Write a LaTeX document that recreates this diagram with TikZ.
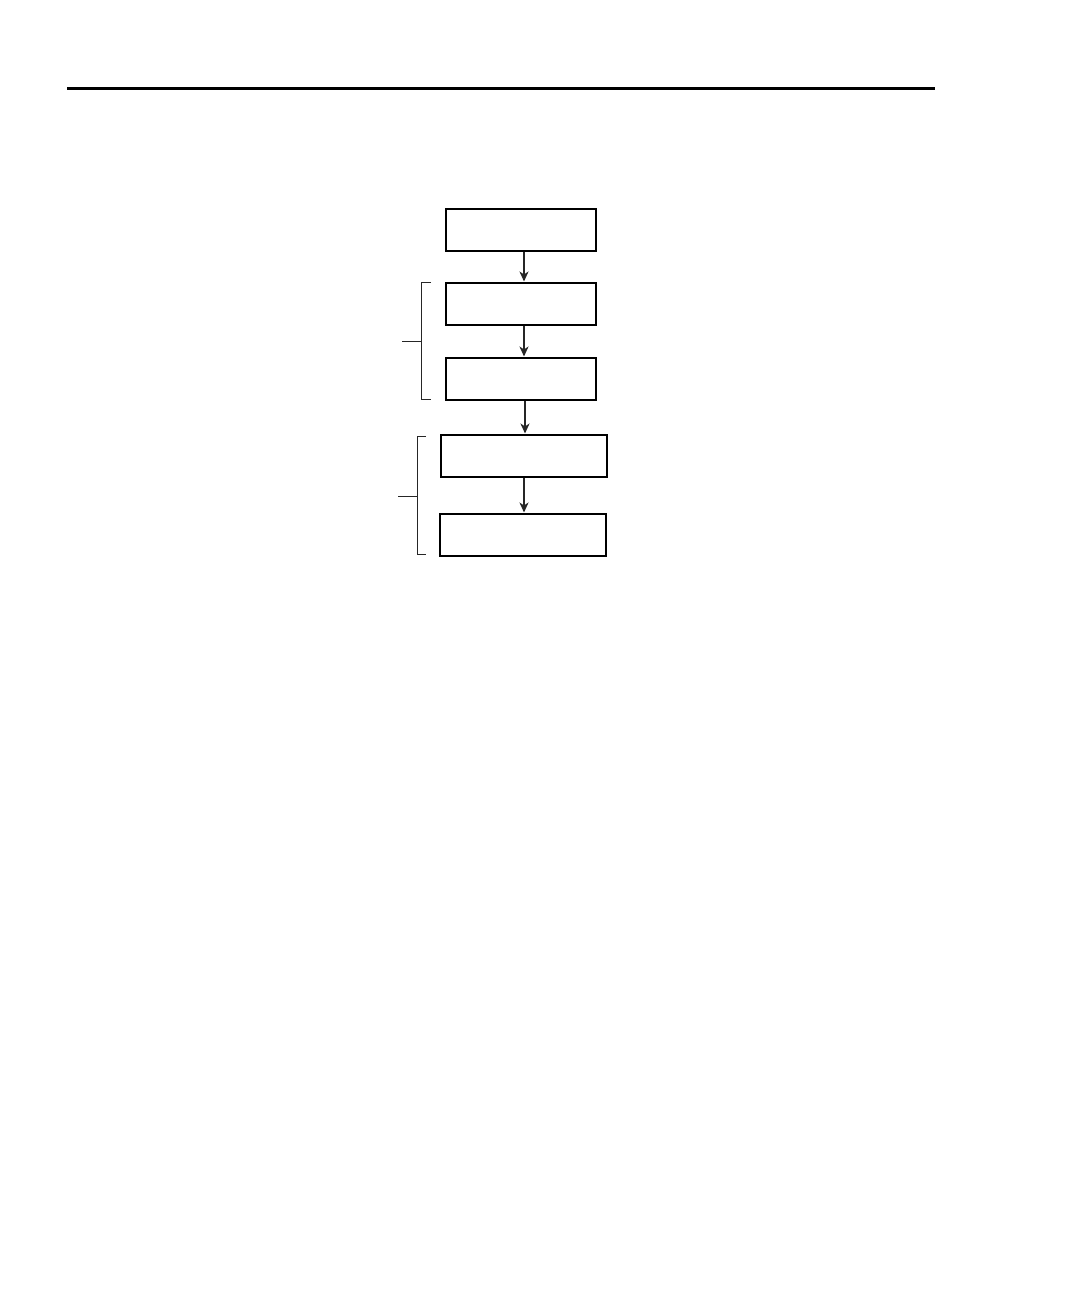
\documentclass[tikz,border=0pt]{standalone}
\usetikzlibrary{arrows.meta}
\begin{document}
\begin{tikzpicture}[x=1pt,y=-1pt,
  stepbox/.style={draw=black,line width=2pt,inner sep=0pt,minimum width=150pt,minimum height=42pt},
  flow/.style={line width=2.2pt,draw=black!85,-{Stealth[length=10pt,width=9pt,inset=3pt]}},
  brace/.style={line width=1pt,draw=black!85}]
\useasboundingbox (0,0) rectangle (1080,1296);
\draw[line width=3pt] (67,88) -- (935,88);
\node[stepbox] (b1) at (521,229.5) {};
\node[stepbox] (b2) at (521,303.5) {};
\node[stepbox] (b3) at (521,378.5) {};
\node[stepbox,minimum width=166pt] (b4) at (524,455.5) {};
\node[stepbox,minimum width=166pt] (b5) at (523,534.5) {};
\draw[flow] (b1.south -| 524,0) -- (b2.north -| 524,0);
\draw[flow] (b2.south -| 524,0) -- (b3.north -| 524,0);
\draw[flow] (b3.south -| 525,0) -- (b4.north -| 525,0);
\draw[flow] (b4.south -| 524,0) -- (b5.north -| 524,0);
\coordinate (t1) at (431,282);
\coordinate (u1) at (431,399.5);
\coordinate (s1) at (402,341);
\draw[brace] (t1) -- (421.7,282) -- (421.7,399.5) -- (u1);
\draw[brace] (s1) -- (421.7,341);
\coordinate (t2) at (426,436);
\coordinate (u2) at (426,554.5);
\coordinate (s2) at (398,496);
\draw[brace] (t2) -- (417.3,436) -- (417.3,554.5) -- (u2);
\draw[brace] (s2) -- (417.3,496);
\end{tikzpicture}
\end{document}
